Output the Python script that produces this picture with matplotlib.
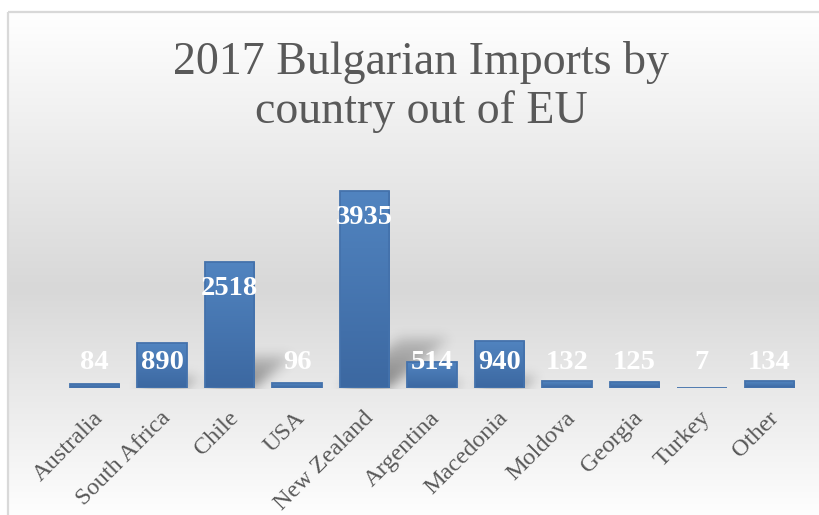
import numpy as np
import matplotlib
matplotlib.use("Agg")
import matplotlib.pyplot as plt
from matplotlib.patches import Rectangle

countries = ["Australia", "South Africa", "Chile", "USA", "New Zealand", "Argentina",
             "Macedonia", "Moldova", "Georgia", "Turkey", "Other"]
imports = [84, 890, 2518, 96, 3935, 514, 940, 132, 125, 7, 134]
title = "2017 Bulgarian Imports by\ncountry out of EU"

W, H = 819, 515
fig = plt.figure(figsize=(W / 100, H / 100), dpi=100)
serif = ["Liberation Serif", "DejaVu Serif"]
grey_txt = "#595959"

# background: white -> grey -> white vertical gradient inside a thin frame
bg = fig.add_axes([0, 0, 1, 1], zorder=-2)
bg.set_xlim(0, W)
bg.set_ylim(H, 0)
bg.axis("off")
rows = np.arange(H)
frac = np.clip((rows - 12) / (H - 12), 0, 1)
lev = np.interp(frac, [0, 0.55, 1.0], [255, 216, 254]) / 255.0
img = np.ones((H, W, 3))
img[:, :, :] = lev[:, None, None]
img[:12, :, :] = 1.0
img[:, :8, :] = 1.0
bg.imshow(img, extent=[0, W, H, 0], aspect="auto", interpolation="bilinear")
bg.add_patch(Rectangle((8, 12), W + 10, H + 10, fill=False, edgecolor="#d9d9d9", lw=1.6))

# plot axes placed in pixels
base_row = 388
px_per_unit = 197 / 3935
ymax = 4500
ax_l, ax_r = 60.75, 803.25
ax_h = ymax * px_per_unit
ax = fig.add_axes([ax_l / W, (H - base_row) / H, (ax_r - ax_l) / W, ax_h / H], zorder=1)
ax.patch.set_alpha(0)

x = np.arange(len(countries))
width = 0.726
top_c = np.array([0x51, 0x84, 0xc0]) / 255
bot_c = np.array([0x3c, 0x68, 0xa1]) / 255
# outline in a mid blue keeps tiny values (Turkey) visible like the original
bars = ax.bar(x, imports, width=width, color="none", edgecolor="#4472ac", lw=1.3, zorder=3)
grad = np.linspace(0, 1, 100)[:, None]
gimg = (top_c[None, None, :] * (1 - grad[:, :, None]) + bot_c[None, None, :] * grad[:, :, None])
for b, v in zip(bars, imports):
    im = ax.imshow(gimg, extent=[b.get_x(), b.get_x() + b.get_width(), 0, max(v, 1)],
                   aspect="auto", zorder=2)
    im.set_clip_path(b)
ax.set_xlim(-0.5, len(countries) - 0.5)
ax.set_ylim(0, ymax)
ax.axis("off")

# perspective shadows behind the bars
alpha = np.zeros((H, W))
for b, v in zip(bars, imports):
    (x0, _), (x1, _) = ax.transData.transform([(b.get_x(), 0), (b.get_x() + b.get_width(), 0)])
    bh = v * px_per_unit
    hs = 0.25 * bh
    if hs < 2:
        continue
    for r in range(int(base_row - hs), base_row):
        t = (base_row - r) / hs
        d = 1.2 * (base_row - r)
        c0, c1 = int(x0 + d), int(x1 + d)
        alpha[r, max(c0, 0):min(c1, W)] = 0.45 * (1 - 0.6 * t)
k = np.exp(-0.5 * (np.arange(-18, 19) / 6.0) ** 2)
k /= k.sum()
alpha = np.apply_along_axis(lambda r: np.convolve(r, k, mode="same"), 1, alpha)
alpha = np.apply_along_axis(lambda c: np.convolve(c, k, mode="same"), 0, alpha)
alpha[base_row + 1:, :] = 0
shadow = np.zeros((H, W, 4))
shadow[:, :, 3] = alpha
bg.imshow(shadow, extent=[0, W, H, 0], aspect="auto", zorder=3)

# data labels
for i, v in enumerate(imports):
    ly = max(v - 530, 500)
    ax.text(i, ly, str(v), ha="center", va="center", color="white", fontsize=20.5,
            fontweight="bold", family=serif, zorder=5)

# category labels
for i, name in enumerate(countries):
    ax.annotate(name, xy=(i, 0), xytext=(-1.5, -14), textcoords="offset points",
                rotation=45, rotation_mode="anchor", ha="right", va="top",
                fontsize=17.5, color=grey_txt, family=serif, annotation_clip=False)

fig.text(421 / W, 1 - 87 / H, title, ha="center", va="center", fontsize=33,
         color=grey_txt, family=serif, linespacing=1.18)

fig.savefig("out.png", dpi=100)
